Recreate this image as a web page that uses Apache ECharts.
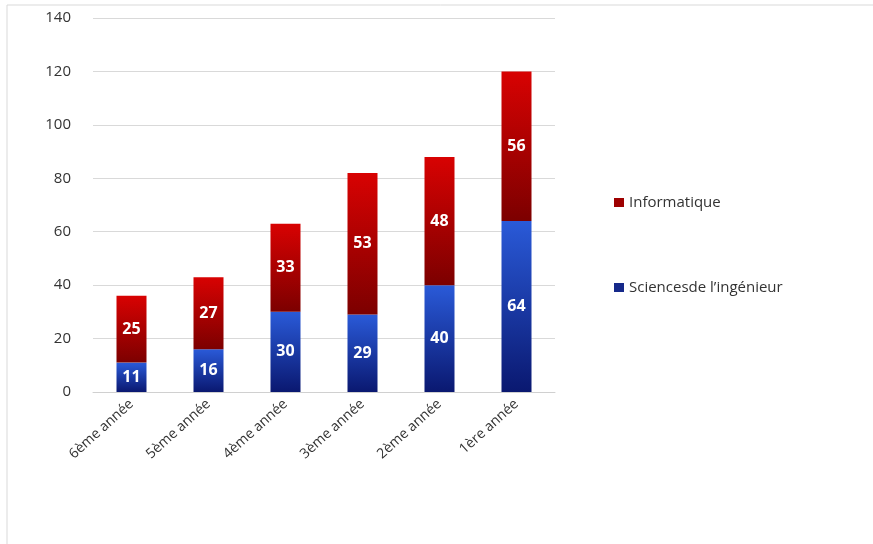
<!DOCTYPE html>
<html>
<head>
<meta charset="utf-8">
<script src="https://cdn.jsdelivr.net/npm/echarts@6/dist/echarts.min.js"></script>
<style>
  html, body { margin: 0; padding: 0; background: #fff; }
  #charts { width: 873px; height: 544px; }
</style>
</head>
<body>
<div id="charts"></div>
<script>
// data
const categories = ['6ème année', '5ème année', '4ème année', '3ème année', '2ème année', '1ère année'];
const sciences = [11, 16, 30, 29, 40, 64];
const informatique = [25, 27, 33, 53, 48, 56];
const yTicks = [0, 20, 40, 60, 80, 100, 120, 140];

let myChart = echarts.init(document.getElementById('charts'));

const blueGrad = new echarts.graphic.LinearGradient(0, 0, 0, 1, [
    { offset: 0, color: '#2a5ad8' },
    { offset: 1, color: '#0a1870' }
]);
const redGrad = new echarts.graphic.LinearGradient(0, 0, 0, 1, [
    { offset: 0, color: '#d80202' },
    { offset: 1, color: '#7c0000' }
]);

const labelStyle = {
    show: true,
    position: 'inside',
    color: '#ffffff',
    fontSize: 16,
    fontWeight: 'bold',
    fontFamily: 'Open Sans'
};

myChart.setOption({
    animation: false,
    textStyle: { fontFamily: 'Open Sans' },
    graphic: [{
        type: 'rect',
        shape: { x: 7, y: 5, width: 900, height: 600 },
        style: { fill: 'none', stroke: '#d9d9d9', lineWidth: 1 },
        silent: true
    }],
    grid: { left: 93, top: 18, width: 462, height: 374 },
    legend: {
        orient: 'vertical',
        left: 609,
        top: 190,
        itemGap: 70,
        itemWidth: 10,
        itemHeight: 9,
        icon: 'rect',
        data: [
            { name: 'Informatique', itemStyle: { color: '#9e0000' } },
            { name: 'Sciencesde l’ingénieur', itemStyle: { color: '#16298a' } }
        ],
        textStyle: { fontSize: 15, color: '#333', fontFamily: 'Open Sans' }
    },
    xAxis: {
        type: 'category',
        data: categories,
        axisTick: { show: false },
        axisLine: { lineStyle: { color: '#d0d0d0' } },
        axisLabel: { rotate: 42, fontSize: 14, color: '#333', margin: 10, interval: 0 }
    },
    yAxis: {
        type: 'value',
        min: yTicks[0],
        max: yTicks[yTicks.length - 1],
        interval: yTicks[1] - yTicks[0],
        axisLine: { show: false },
        axisTick: { show: false },
        splitLine: { lineStyle: { color: '#d9d9d9' } },
        axisLabel: { fontSize: 15, color: '#333', margin: 22 }
    },
    series: [
        {
            name: 'Sciencesde l’ingénieur',
            type: 'bar',
            stack: 'total',
            barWidth: 30,
            data: sciences,
            itemStyle: { color: blueGrad },
            label: labelStyle
        },
        {
            name: 'Informatique',
            type: 'bar',
            stack: 'total',
            barWidth: 30,
            data: informatique,
            itemStyle: { color: redGrad },
            label: labelStyle
        }
    ]
});
</script>
</body>
</html>
